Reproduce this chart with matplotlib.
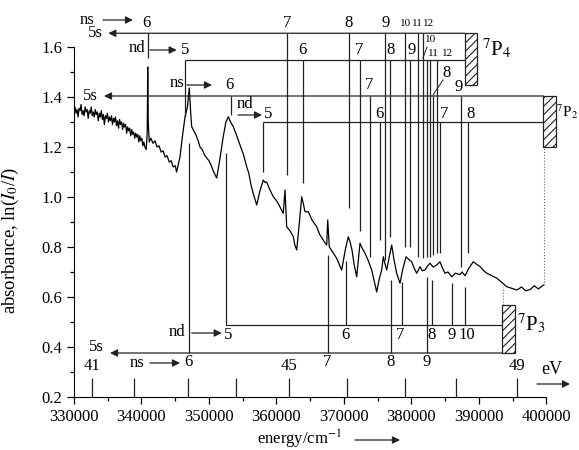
import matplotlib.pyplot as plt
from matplotlib.patches import Rectangle

plt.rcParams['font.family'] = ['Liberation Serif', 'DejaVu Serif']
plt.rcParams['mathtext.fontset'] = 'stix'
plt.rcParams['font.size'] = 12
plt.rcParams['hatch.linewidth'] = 0.8

# ------------------------------------------------------------
# spectrum (energy in cm^-1, absorbance ln(I0/I))
# ------------------------------------------------------------
energy = [
    330000, 330150, 330300, 330450, 330600, 330750, 330900, 331050, 331200, 331350,
    331500, 331650, 331800, 331950, 332100, 332250, 332400, 332550, 332700, 332850,
    333000, 333150, 333300, 333450, 333600, 333750, 333900, 334050, 334200, 334350,
    334500, 334650, 334800, 334950, 335100, 335250, 335400, 335550, 335700, 335850,
    336000, 336150, 336300, 336450, 336600, 336750, 336900, 337050, 337200, 337350,
    337500, 337650, 337800, 337950, 338100, 338250, 338400, 338550, 338700, 338850,
    339000, 339150, 339300, 339450, 339600, 339750, 339900, 340050, 340200, 340350,
    340500, 340700, 340850, 340920, 341000,
    341150, 341400, 341700, 342000, 342300, 342600, 342900, 343200, 343500, 343800,
    344100, 344400, 344700, 345000, 345200, 345700, 346100, 346444, 346800, 347081,
    347300, 347437, 347800, 348074, 348400, 348667, 349000, 349300, 349659, 350000,
    350296, 350700, 351141, 351600, 352100, 352500, 352859, 353200, 353600, 354100,
    354593, 355100, 355585, 355900, 356222, 356600, 357067, 357500, 358044, 358300,
    358548, 359000, 359526, 360000, 360370, 360700, 361007, 361259, 361511, 362000,
    362489, 362700, 362993, 363400, 363733, 364000, 364222, 364711, 365259, 365600,
    365956, 366400, 366741, 367100, 367437, 367585, 367822, 368300, 368919, 369300,
    369659, 370200, 370637, 370900, 371185, 371500, 371881, 372370, 372700, 373111,
    373600, 374104, 374500, 374844, 375200, 375586, 375823, 376100, 376327, 376700,
    377067, 377400, 377808, 378297, 378700, 379186, 379600, 380030, 380400, 380771,
    381260, 381600, 382001, 382400, 382741, 383200, 383734, 384223, 384600, 384964,
    385400, 385956, 386500, 387186, 387500, 387927, 388500, 389156, 389700, 390185,
    390700, 391170, 391900, 392652, 393300, 394133, 394800, 395615, 396300, 396900,
    397585, 398200, 398800, 399530,
]
absorbance = [
    1.33, 1.36, 1.335, 1.35, 1.32, 1.355, 1.345, 1.37, 1.33, 1.345,
    1.325, 1.36, 1.34, 1.35, 1.315, 1.345, 1.335, 1.36, 1.325, 1.34,
    1.32, 1.35, 1.33, 1.34, 1.305, 1.335, 1.32, 1.345, 1.31, 1.33,
    1.29, 1.325, 1.315, 1.335, 1.30, 1.32, 1.305, 1.325, 1.29, 1.315,
    1.30, 1.32, 1.285, 1.305, 1.275, 1.31, 1.29, 1.30, 1.27, 1.295,
    1.28, 1.29, 1.255, 1.28, 1.265, 1.275, 1.245, 1.27, 1.25, 1.26,
    1.235, 1.255, 1.24, 1.25, 1.22, 1.245, 1.225, 1.235, 1.205, 1.22,
    1.20, 1.19, 1.26, 1.52, 1.30,
    1.22, 1.235, 1.215, 1.225, 1.20, 1.205, 1.18, 1.185, 1.16, 1.165,
    1.14, 1.145, 1.12, 1.125, 1.10, 1.16, 1.25, 1.32, 1.36, 1.436,
    1.33, 1.281, 1.262, 1.248, 1.225, 1.20, 1.19, 1.17, 1.156, 1.145,
    1.128, 1.10, 1.076, 1.15, 1.24, 1.30, 1.321, 1.30, 1.281, 1.245,
    1.208, 1.17, 1.121, 1.095, 1.048, 1.01, 0.968, 1.02, 1.068, 1.058,
    1.06, 1.03, 1.001, 0.985, 0.968, 0.95, 0.935, 1.028, 0.881, 0.865,
    0.841, 0.81, 0.788, 0.90, 1.001, 0.97, 0.941, 0.941, 0.908, 0.895,
    0.881, 0.85, 0.836, 0.82, 0.808, 0.908, 0.801, 0.78, 0.755, 0.73,
    0.708, 0.79, 0.841, 0.82, 0.788, 0.73, 0.681, 0.815, 0.795, 0.775,
    0.745, 0.708, 0.66, 0.62, 0.67, 0.708, 0.761, 0.73, 0.708, 0.76,
    0.808, 0.75, 0.695, 0.655, 0.71, 0.761, 0.75, 0.741, 0.715, 0.695,
    0.721, 0.705, 0.708, 0.725, 0.735, 0.72, 0.728, 0.741, 0.715, 0.695,
    0.70, 0.681, 0.695, 0.69, 0.70, 0.685, 0.715, 0.741, 0.73, 0.721,
    0.705, 0.695, 0.685, 0.675, 0.66, 0.641, 0.635, 0.628, 0.64, 0.625,
    0.63, 0.645, 0.632, 0.648,
]

# ------------------------------------------------------------
# Rydberg series markers
# ------------------------------------------------------------
# limits (hatched boxes): left/right energy, bottom/top absorbance
limit_7P4 = (387926, 389704, 1.448, 1.656)
limit_7P2 = (399526, 401407, 1.201, 1.404)
limit_7P3 = (393363, 395333, 0.375, 0.568)

# 5s -> ns converging to 7P4 (top)
ns_7P4_n = [6, 7, 8, 9, 10, 11, 12]
ns_7P4_E = [340919, 361556, 370741, 376074, 379037, 381007, 381748]
ns_7P4_end = [1.556, 1.088, 0.956, 0.748, 0.80, 0.76, 0.755]
ns_7P4_level = 1.655

# 5s -> nd converging to 7P4
nd_7P4_n = [5, 6, 7, 8, 9, 10, 11, 12]
nd_7P4_E = [346444, 363852, 372444, 376815, 379778, 382252, 382741, 383734]
nd_7P4_end = [1.32, 1.056, 0.864, 0.84, 0.80, 0.76, 0.76, 0.776]
nd_7P4_level = 1.548

# 5s -> ns converging to 7P2
ns_7P2_n = [6, 7, 8, 9]
ns_7P2_E = [353259, 373926, 383185, 387260]
ns_7P2_end = [1.328, 0.76, 0.77, 0.72]
ns_7P2_level = 1.404

# 5s -> nd converging to 7P2
nd_7P2_n = [5, 6, 7, 8]
nd_7P2_E = [358000, 375333, 384223, 388444]
nd_7P2_end = [1.101, 0.828, 0.776, 0.776]
nd_7P2_level = 1.30

# 5s -> nd converging to 7P3 (bottom)
nd_7P3_n = [5, 6, 7, 8, 9, 10]
nd_7P3_E = [352519, 370370, 378548, 382993, 385956, 387927]
nd_7P3_top = [1.176, 0.744, 0.66, 0.668, 0.656, 0.64]
nd_7P3_level = 0.488

# 5s -> ns converging to 7P3
ns_7P3_n = [6, 7, 8, 9]
ns_7P3_E = [347037, 367585, 376963, 382252]
ns_7P3_top = [1.216, 0.768, 0.668, 0.68]
ns_7P3_level = 0.376

# photon energy axis in eV
ev_labels = [41, 42, 43, 44, 45, 46, 47, 48, 49]
ev_pos = [332620, 338900, 346900, 354060, 361850, 370450, 379040, 386650, 395680]


# ------------------------------------------------------------
# figure
# ------------------------------------------------------------
fig = plt.figure(figsize=(5.79, 4.5), dpi=100)
ax = fig.add_axes([74 / 579, 53 / 450, 505 / 579, 397 / 450])
ax.set_xlim(330000, 404815)
ax.set_ylim(0.2, 1.788)

for s in ['top', 'right']:
    ax.spines[s].set_visible(False)
ax.spines['left'].set_bounds(0.2, 1.6)
ax.spines['bottom'].set_bounds(330000, 400000)
ax.set_xticks(range(330000, 400001, 10000))
ax.set_xticks(range(335000, 400000, 10000), minor=True)
ax.set_yticks([0.2, 0.4, 0.6, 0.8, 1.0, 1.2, 1.4, 1.6])
ax.set_yticks([0.3, 0.5, 0.7, 0.9, 1.1, 1.3, 1.5], minor=True)
ax.set_yticklabels(['0.2', '0.4', '0.6', '0.8', '1.0', '1.2', '1.4', '1.6'])
ax.tick_params(which='major', direction='out', length=5, width=0.9)
ax.tick_params(which='minor', direction='out', length=3, width=0.9)

ax.plot(energy, absorbance, color='black', lw=0.9)

lc = '#222222'
lw = 0.9
small = 8


def arrow(x0, x1, y):
    ax.annotate('', xy=(x1, y), xytext=(x0, y),
                arrowprops=dict(arrowstyle='-|>', color=lc, lw=lw,
                                mutation_scale=11, shrinkA=0, shrinkB=0))


# hatched limit boxes
for (x0, x1, y0, y1), name, tx, ty, fs in [
        (limit_7P4, '$^7$P$_4$', 390500, 1.592, 15),
        (limit_7P2, '$^7$P$_2$', 401450, 1.34, 11),
        (limit_7P3, '$^7$P$_3$', 395700, 0.49, 15)]:
    ax.add_patch(Rectangle((x0, y0), x1 - x0, y1 - y0, facecolor='white',
                           edgecolor=lc, hatch='////', lw=lw, zorder=3))
    ax.text(tx, ty, name, fontsize=fs, ha='left', va='center')

# limit lines (dotted) from boxes to spectrum
ax.vlines(399556, 0.648, limit_7P2[2], color='0.4', lw=0.8, ls=':')
ax.vlines(393482, limit_7P3[3], 0.64, color='0.4', lw=0.8, ls=':')

# top series (lines hang down from their level)
arrow(limit_7P4[0], 335081, ns_7P4_level)
ax.vlines(ns_7P4_E, ns_7P4_end, ns_7P4_level, color=lc, lw=lw)
ax.hlines(nd_7P4_level, nd_7P4_E[0], limit_7P4[0], color=lc, lw=lw)
ax.vlines(nd_7P4_E, nd_7P4_end, nd_7P4_level, color=lc, lw=lw)

arrow(limit_7P2[0], 334444, ns_7P2_level)
ax.vlines(ns_7P2_E, ns_7P2_end, ns_7P2_level, color=lc, lw=lw)
ax.hlines(nd_7P2_level, nd_7P2_E[0], limit_7P2[0], color=lc, lw=lw)
ax.vlines(nd_7P2_E, nd_7P2_end, nd_7P2_level, color=lc, lw=lw)

# bottom series (lines rise from their level)
arrow(limit_7P3[0], 335333, ns_7P3_level)
ax.vlines(ns_7P3_E, ns_7P3_level, ns_7P3_top, color=lc, lw=lw)
ax.hlines(nd_7P3_level, nd_7P3_E[0], limit_7P3[0], color=lc, lw=lw)
ax.vlines(nd_7P3_E, nd_7P3_level, nd_7P3_top, color=lc, lw=lw)

# series labels
ax.text(334296, 1.656, '5s', ha='right', va='center')
ax.text(333556, 1.404, '5s', ha='right', va='center')
ax.text(334444, 0.40, '5s', ha='right', va='center')

ax.text(331881, 1.708, 'ns', ha='center', va='center')
arrow(334296, 338741, 1.708)
ax.text(339289, 1.594, 'nd', ha='center', va='center')
arrow(341259, 345215, 1.588)
ax.text(345259, 1.456, 'ns', ha='center', va='center')
arrow(346741, 350444, 1.448)
ax.text(355333, 1.37, 'nd', ha='center', va='center')
arrow(354296, 357852, 1.328)
ax.text(345215, 0.462, 'nd', ha='center', va='center')
arrow(347437, 351881, 0.456)
ax.text(339289, 0.336, 'ns', ha='center', va='center')
arrow(341259, 345704, 0.336)

# n labels
for n, x in zip(ns_7P4_n, [340770, 361556, 370641, 376222, 379185, 380914, 382495]):
    ax.text(x, 1.696, str(n), ha='center', va='center',
            fontsize=12 if n < 10 else small)
for n, x, y in zip(nd_7P4_n,
                   [346444, 363852, 372296, 376963, 380069, 382889, 383285, 385407],
                   [1.588, 1.588, 1.588, 1.588, 1.588, 1.632, 1.576, 1.576]):
    ax.text(x, y, str(n), ha='center', va='center',
            fontsize=12 if n < 10 else small)
ax.plot([381704, 382296], [1.556, 1.60], color=lc, lw=0.7)

for n, x, y in zip(ns_7P2_n, [352963, 373778, 385259, 386963],
                   [1.448, 1.448, 1.496, 1.441]):
    ax.text(x, y, str(n), ha='center', va='center')
ax.plot([383185, 384667], [1.408, 1.468], color=lc, lw=0.7)
for n, x in zip(nd_7P2_n, [358741, 375185, 384815, 388741]):
    ax.text(x, 1.334, str(n), ha='center', va='center')

for n, x in zip(nd_7P3_n, [352859, 370148, 378296, 383037, 385956, 388222]):
    ax.text(x, 0.448, str(n), ha='center', va='center')
for n, x in zip(ns_7P3_n, [346933, 367437, 376963, 382252]):
    ax.text(x, 0.341, str(n), ha='center', va='center')

# eV scale
ax.vlines(ev_pos, 0.2, 0.276, color=lc, lw=lw)
for lab, x in zip(ev_labels, ev_pos):
    if lab in (41, 45, 49):
        ax.text(x, 0.322, str(lab), ha='center', va='center')
ax.text(400815, 0.31, 'eV', ha='center', va='center', fontsize=13)
arrow(398593, 403481, 0.252)

# axis labels
ax.set_xlabel('energy/cm$^{-1}$', fontsize=12)
ax.xaxis.set_label_coords(0.4475, -0.078)
ax.set_ylabel('absorbance, ln($I_0$/$I$)', fontsize=13.5)
ax.yaxis.set_label_coords(-0.105, 0.395)
ax.annotate('', xy=(400 / 579, 1 - 440 / 450), xytext=(355 / 579, 1 - 440 / 450),
            xycoords='figure fraction', textcoords='figure fraction',
            arrowprops=dict(arrowstyle='-|>', color=lc, lw=lw,
                            mutation_scale=11, shrinkA=0, shrinkB=0))

fig.savefig('out.png', dpi=100)
plt.close(fig)
